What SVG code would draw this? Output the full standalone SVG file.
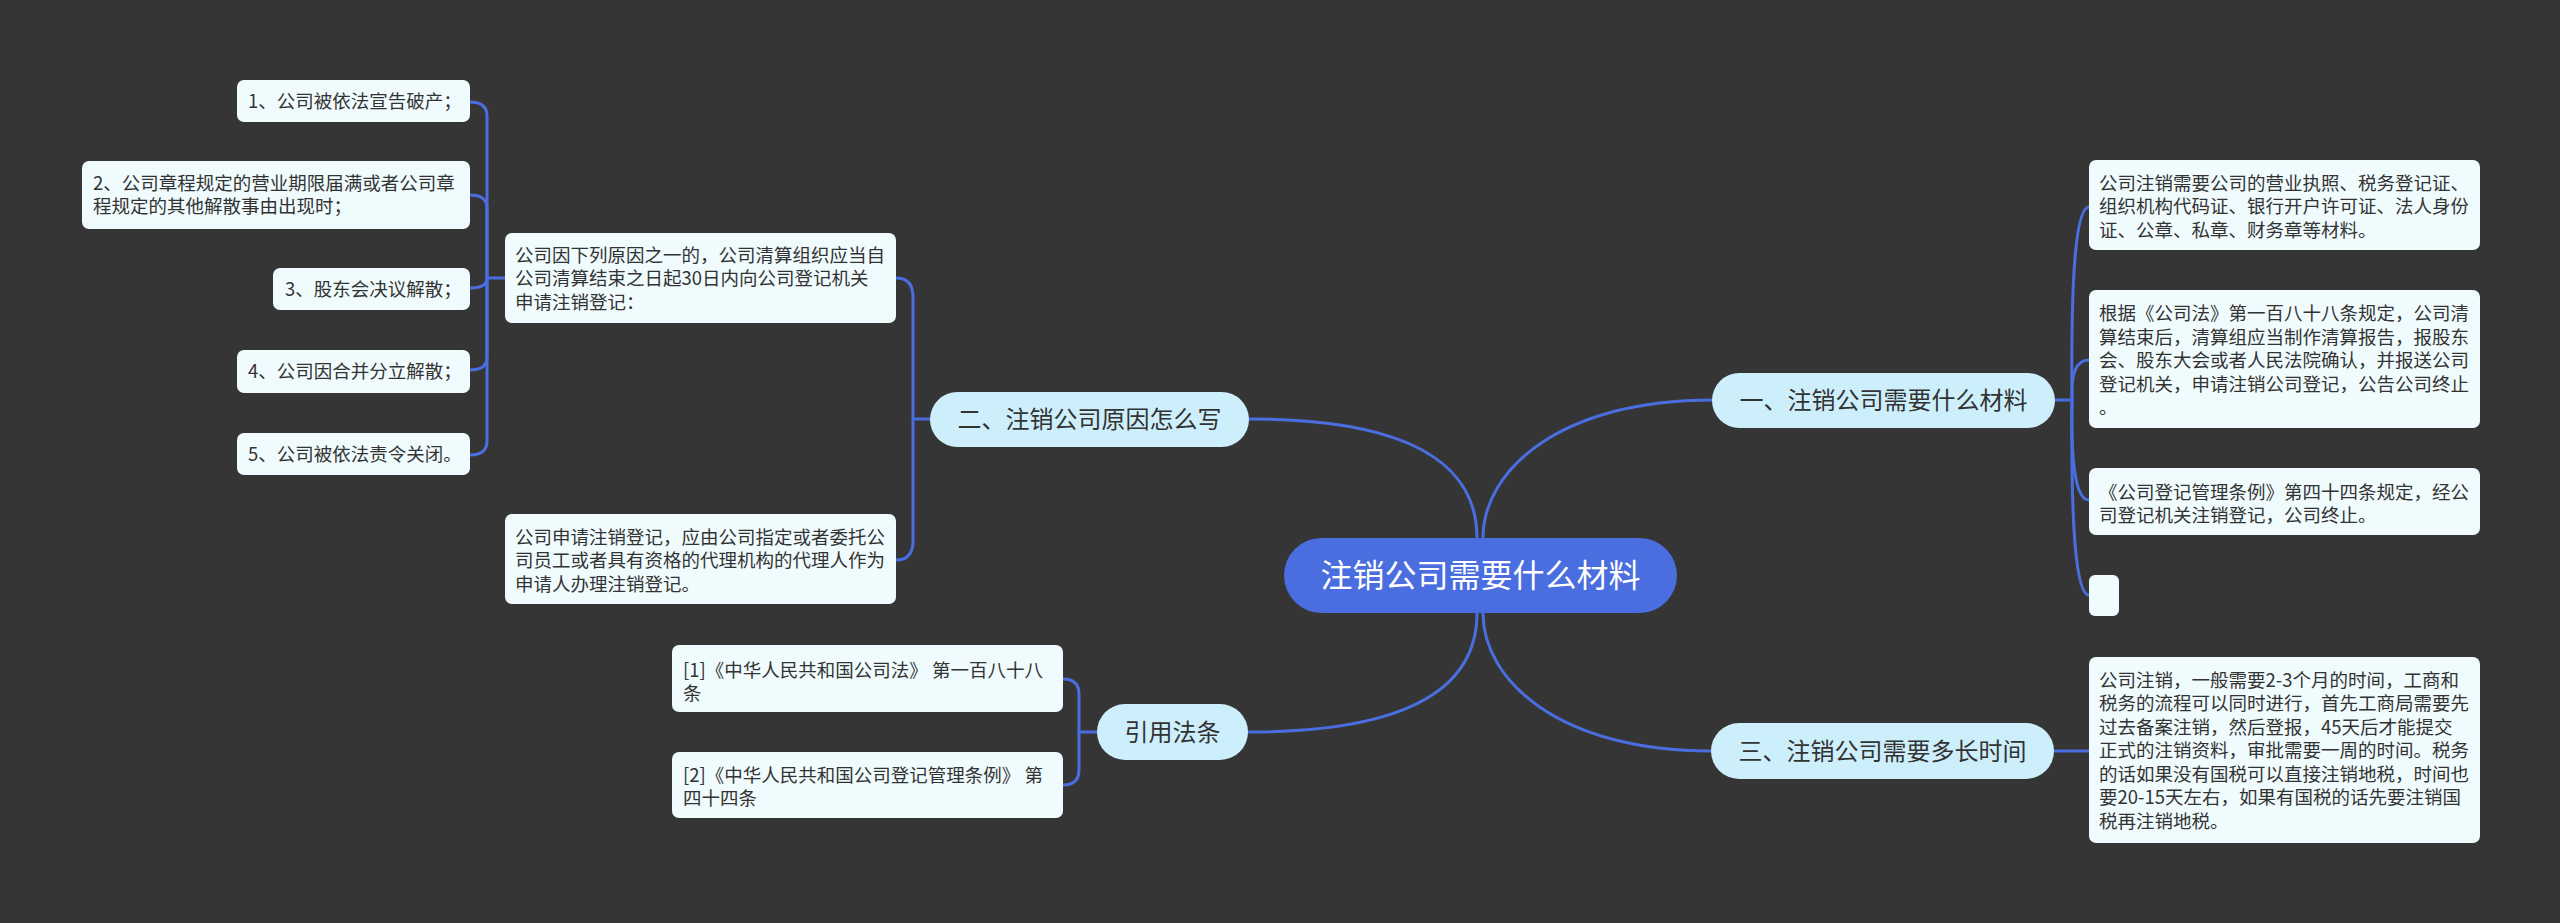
<svg xmlns="http://www.w3.org/2000/svg" width="2560" height="923" viewBox="0 0 2560 923">
<style>
text{font-family:"Microsoft YaHei","Noto Sans CJK SC","Noto Sans",sans-serif;fill:#333333}
.leaf rect{fill:#f0fbfd}
.leaf text{font-size:18.5px}
.branch rect{fill:#cdeffc}
.branch text{font-size:24px;text-anchor:middle}
.conn path{fill:none;stroke:#4a6ee0;stroke-width:3;stroke-linecap:round}
</style>
<rect width="2560" height="923" fill="#363535"/>
<g class="conn">
<path d="M1483,538 C1483,470 1560,400 1712,400"/>
<path d="M1483,613 C1483,681 1560,751 1711,751"/>
<path d="M1477,538 C1477,470 1420,419 1249,419"/>
<path d="M1477,613 C1477,681 1420,732 1248,732"/>
<path d="M2055,400 L2072,400"/>
<path d="M2072,400 Q2070,207 2089,207"/>
<path d="M2072,400 Q2070,360 2089,360"/>
<path d="M2072,400 Q2070,500 2089,500"/>
<path d="M2072,400 Q2070,595 2089,595"/>
<path d="M2054,751 L2089,751"/>
<path d="M930,419 L913,419"/>
<path d="M913,419 L913,297 Q913,278 896,278"/>
<path d="M913,419 L913,541 Q913,560 896,560"/>
<path d="M505,278 L487,278"/>
<path d="M487,278 L487,116 Q487,102 470,102"/>
<path d="M487,278 L487,208 Q487,195 470,195"/>
<path d="M487,278 Q487,288 470,288"/>
<path d="M487,278 L487,357 Q487,370 470,370"/>
<path d="M487,278 L487,441 Q487,455 470,455"/>
<path d="M1097,732 L1079,732"/>
<path d="M1079,732 L1079,694 Q1079,679 1063,679"/>
<path d="M1079,732 L1079,770 Q1079,785 1063,785"/>
</g>
<g id="center">
<rect x="1284" y="538" width="393" height="75" rx="37.5" fill="#4a6ee0"/>
<text x="1480.5" y="587" font-size="32" text-anchor="middle" style="fill:#ffffff">注销公司需要什么材料</text>
</g>
<g id="branch1" class="branch">
<rect x="1712" y="373" width="343" height="55" rx="27.5"/>
<text x="1883.5" y="409">一、注销公司需要什么材料</text>
</g>
<g id="branch2" class="branch">
<rect x="930" y="392" width="319" height="55" rx="27.5"/>
<text x="1089.5" y="428">二、注销公司原因怎么写</text>
</g>
<g id="branch3" class="branch">
<rect x="1711" y="723" width="343" height="56" rx="28"/>
<text x="1882.5" y="760">三、注销公司需要多长时间</text>
</g>
<g id="branch4" class="branch">
<rect x="1097" y="704" width="151" height="56" rx="28"/>
<text x="1172.5" y="741">引用法条</text>
</g>
<g id="r1" class="leaf">
<rect x="2089" y="160" width="391" height="90" rx="7"/>
<text x="2099" y="189.5">公司注销需要公司的营业执照、税务登记证、</text>
<text x="2099" y="213">组织机构代码证、银行开户许可证、法人身份</text>
<text x="2099" y="236.5">证、公章、私章、财务章等材料。</text>
</g>
<g id="r2" class="leaf">
<rect x="2089" y="290" width="391" height="138" rx="7"/>
<text x="2099" y="320">根据《公司法》第一百八十八条规定，公司清</text>
<text x="2099" y="343.5">算结束后，清算组应当制作清算报告，报股东</text>
<text x="2099" y="367">会、股东大会或者人民法院确认，并报送公司</text>
<text x="2099" y="390.5">登记机关，申请注销公司登记，公告公司终止</text>
<text x="2099" y="414">。</text>
</g>
<g id="r3" class="leaf">
<rect x="2089" y="468" width="391" height="67" rx="7"/>
<text x="2099" y="498.5">《公司登记管理条例》第四十四条规定，经公</text>
<text x="2099" y="522">司登记机关注销登记，公司终止。</text>
</g>
<g id="r4" class="leaf">
<rect x="2089" y="575" width="30" height="41" rx="6"/>
</g>
<g id="t1" class="leaf">
<rect x="2089" y="657" width="391" height="186" rx="7"/>
<text x="2099" y="686.5">公司注销，一般需要2-3个月的时间，工商和</text>
<text x="2099" y="710">税务的流程可以同时进行，首先工商局需要先</text>
<text x="2099" y="733.5">过去备案注销，然后登报，45天后才能提交</text>
<text x="2099" y="757">正式的注销资料，审批需要一周的时间。税务</text>
<text x="2099" y="780.5">的话如果没有国税可以直接注销地税，时间也</text>
<text x="2099" y="804">要20-15天左右，如果有国税的话先要注销国</text>
<text x="2099" y="827.5">税再注销地税。</text>
</g>
<g id="a" class="leaf">
<rect x="505" y="233" width="391" height="90" rx="7"/>
<text x="515" y="261.5">公司因下列原因之一的，公司清算组织应当自</text>
<text x="515" y="285">公司清算结束之日起30日内向公司登记机关</text>
<text x="515" y="308.5">申请注销登记：</text>
</g>
<g id="b" class="leaf">
<rect x="505" y="514" width="391" height="90" rx="7"/>
<text x="515" y="543.5">公司申请注销登记，应由公司指定或者委托公</text>
<text x="515" y="567">司员工或者具有资格的代理机构的代理人作为</text>
<text x="515" y="590.5">申请人办理注销登记。</text>
</g>
<g id="a1" class="leaf">
<rect x="237" y="80" width="233" height="42" rx="7"/>
<text x="248" y="108">1、公司被依法宣告破产；</text>
</g>
<g id="a2" class="leaf">
<rect x="82" y="161" width="388" height="68" rx="7"/>
<text x="93" y="189.5">2、公司章程规定的营业期限届满或者公司章</text>
<text x="93" y="213">程规定的其他解散事由出现时；</text>
</g>
<g id="a3" class="leaf">
<rect x="273" y="268" width="197" height="42" rx="7"/>
<text x="285" y="296">3、股东会决议解散；</text>
</g>
<g id="a4" class="leaf">
<rect x="237" y="350" width="233" height="43" rx="7"/>
<text x="248" y="378">4、公司因合并分立解散；</text>
</g>
<g id="a5" class="leaf">
<rect x="237" y="433" width="233" height="42" rx="7"/>
<text x="248" y="461">5、公司被依法责令关闭。</text>
</g>
<g id="c1" class="leaf">
<rect x="672" y="645" width="391" height="67" rx="7"/>
<text x="683" y="676.5">[1]《中华人民共和国公司法》 第一百八十八</text>
<text x="683" y="700">条</text>
</g>
<g id="c2" class="leaf">
<rect x="672" y="752" width="391" height="66" rx="7"/>
<text x="683" y="781.5">[2]《中华人民共和国公司登记管理条例》 第</text>
<text x="683" y="805">四十四条</text>
</g>
</svg>
